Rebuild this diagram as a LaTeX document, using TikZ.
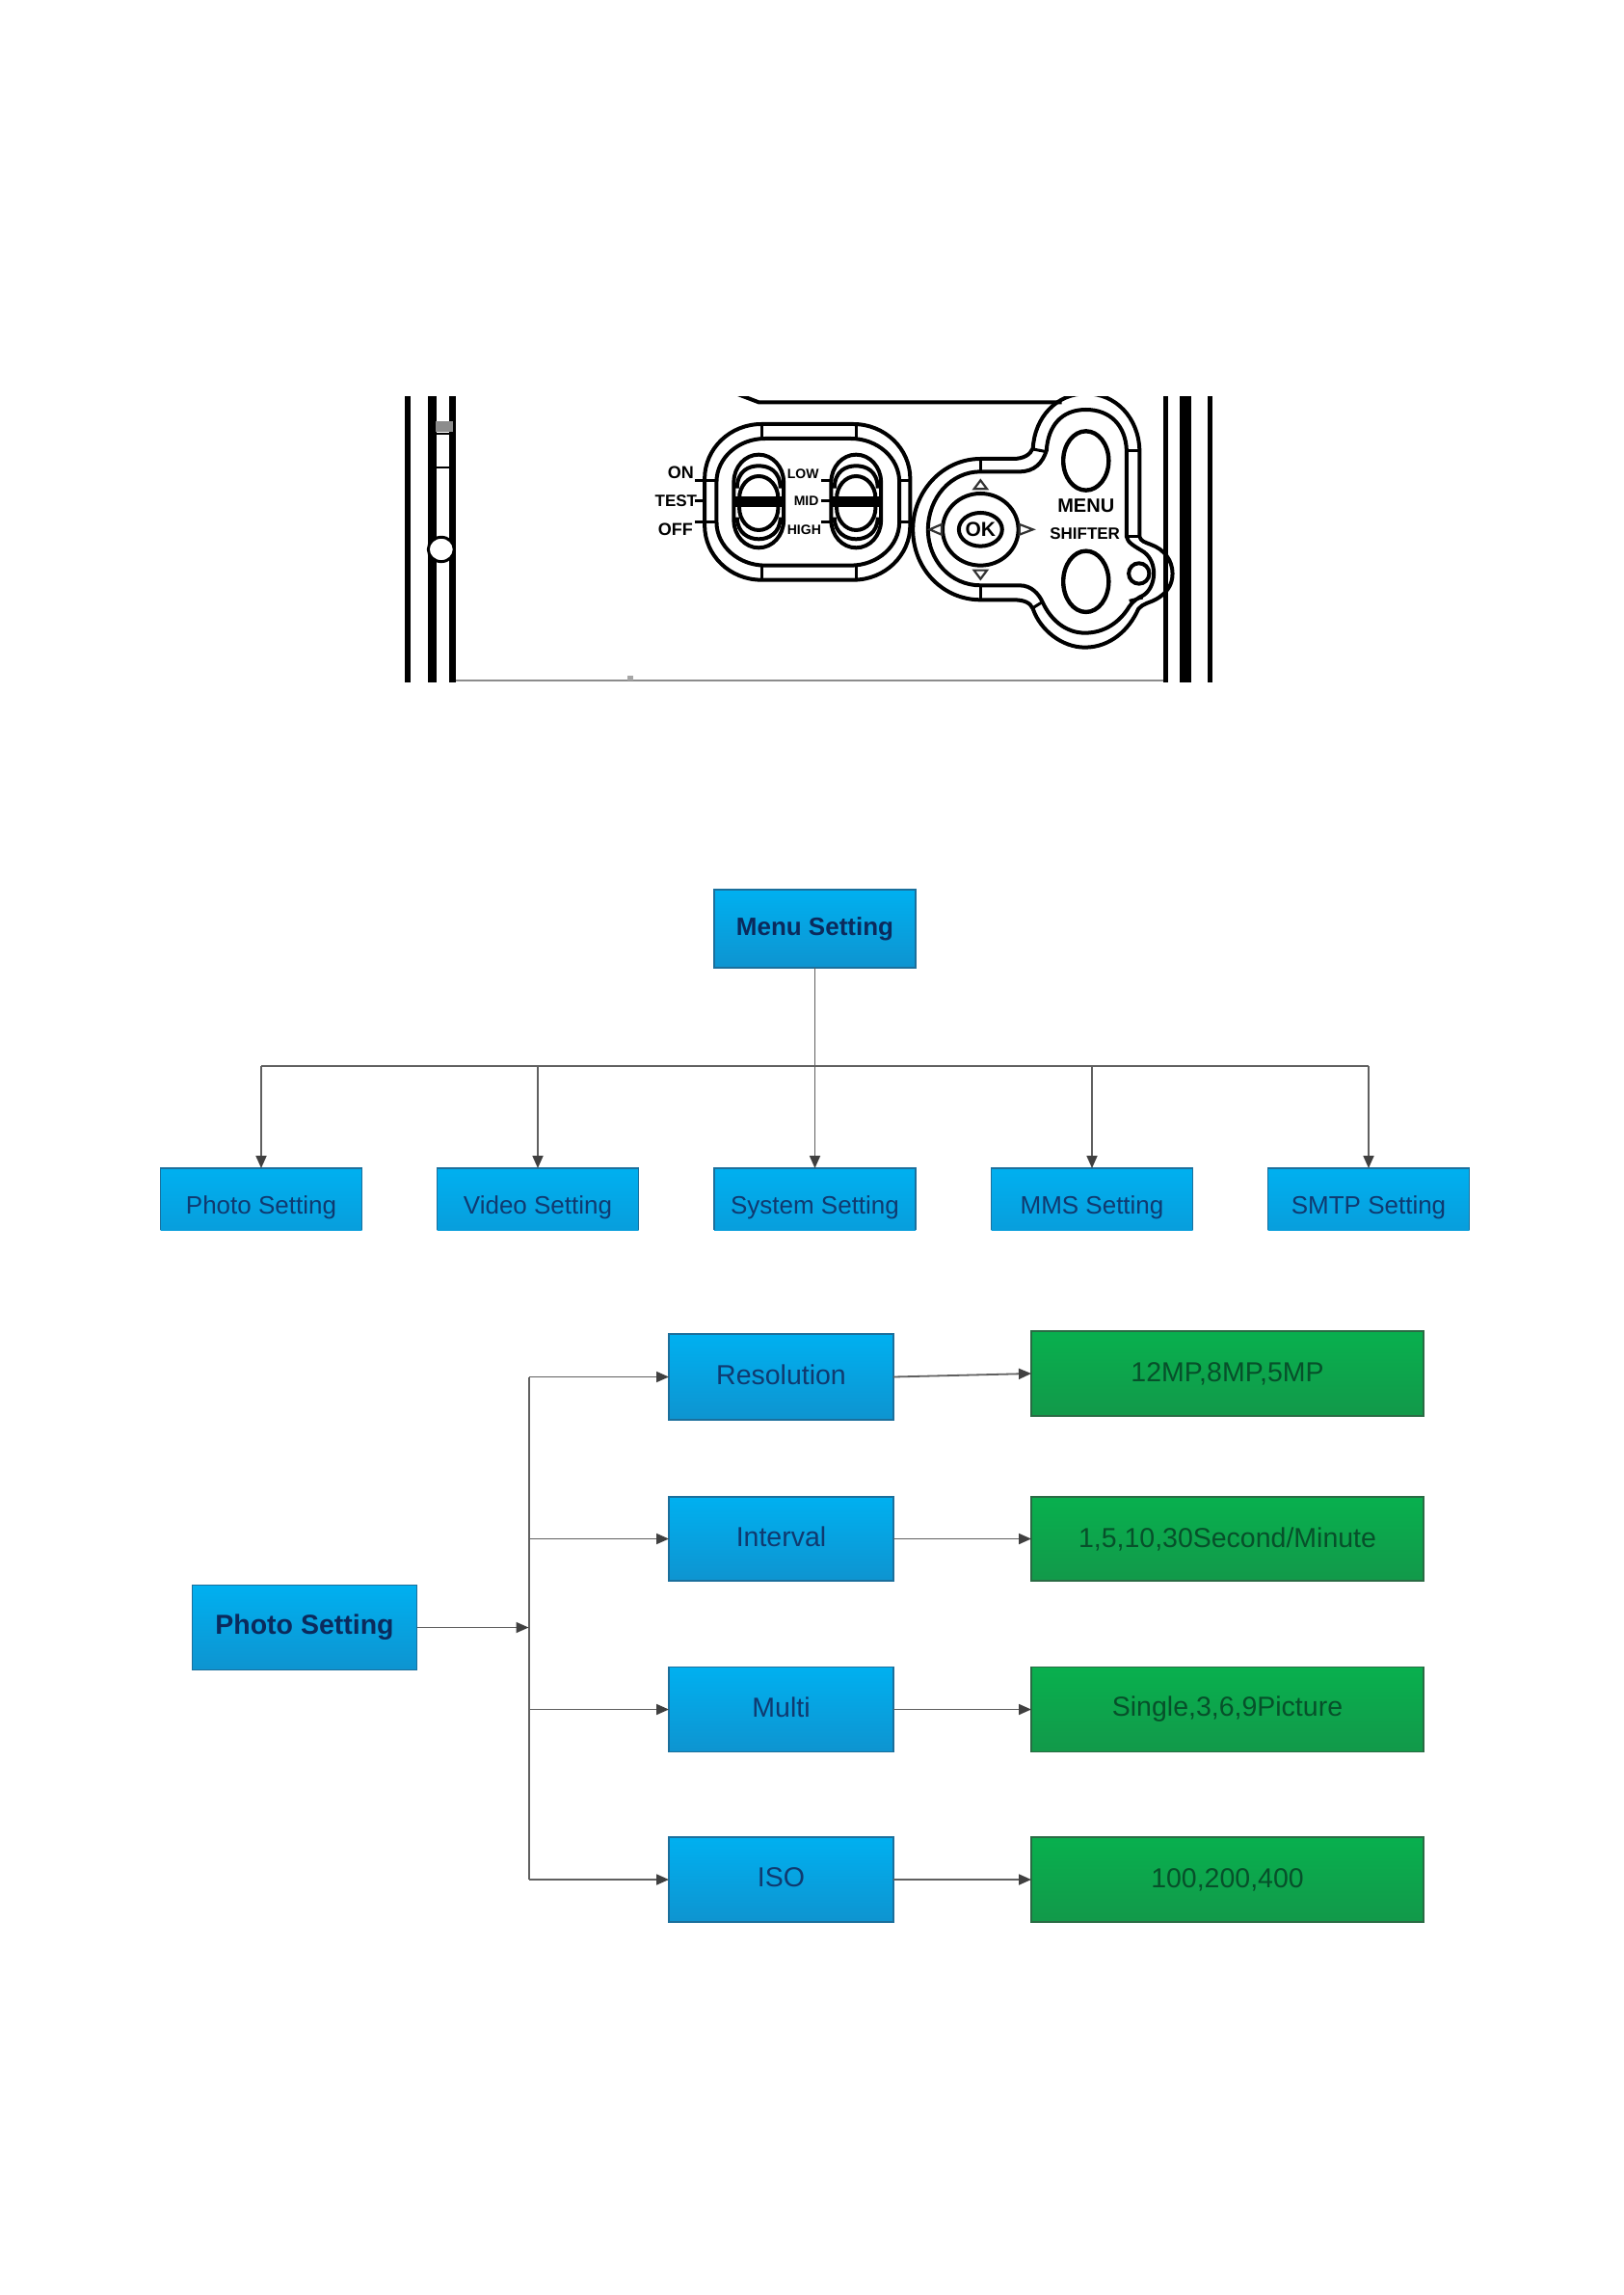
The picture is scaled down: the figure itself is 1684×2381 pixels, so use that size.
\documentclass[tikz,border=0pt]{standalone}
\usepackage{fontspec}
\setmainfont{Liberation Sans}
\usetikzlibrary{arrows.meta}
\definecolor{bluetop}{HTML}{00B0F0}
\definecolor{bluebot}{HTML}{0E94D0}
\definecolor{bluemid}{HTML}{089EDC}
\definecolor{blueedge}{HTML}{1B6F9C}
\definecolor{bluetxt}{HTML}{103A70}
\definecolor{bluebold}{HTML}{0B2A5C}
\definecolor{greentop}{HTML}{08B04E}
\definecolor{greenbot}{HTML}{12994A}
\definecolor{greenedge}{HTML}{2A6B44}
\definecolor{greentxt}{HTML}{07502A}
\definecolor{wire}{HTML}{606060}
\newcommand\fs[1]{\fontsize{#1}{#1}\selectfont}
\newcommand\lowered[2]{\raisebox{#1}[0pt][0pt]{#2}}
\tikzset{
  flowbox/.style={inner sep=0pt,outer sep=0pt,align=center,text=bluetxt,top color=bluetop,bottom color=bluebot,font=\fs{28.5}},
  blueframed/.style={flowbox,draw=blueedge,line width=1.6pt},
  boldbox/.style={blueframed,text=bluebold},
  greenbox/.style={inner sep=0pt,outer sep=0pt,align=center,text=greentxt,top color=greentop,bottom color=greenbot,draw=greenedge,line width=1.6pt,font=\fs{28.5}},
  conn/.style={draw=wire,line width=1.8pt,-{Triangle[length=13pt,width=11pt,color=black!75]}},
  plainwire/.style={draw=wire,line width=2.6pt},
  ink/.style={draw=black,line width=4pt},
  thinink/.style={draw=black,line width=3pt},
  devtxt/.style={inner sep=0pt,text=black,font=\bfseries\fs{#1}},
  arrowtri/.style={draw=black!80,line width=2.2pt,fill=white}
}
% rounded rectangle with elliptical corners: x1 y1 x2 y2 rx ry
\newcommand\rr[7][ink]{%
  \draw[#1] (#2+#6,#3) -- (#4-#6,#3)
    arc[start angle=-90,end angle=0,x radius=#6,y radius=#7] -- (#4,#5-#7)
    arc[start angle=0,end angle=90,x radius=#6,y radius=#7] -- (#2+#6,#5)
    arc[start angle=90,end angle=180,x radius=#6,y radius=#7] -- (#2,#3+#7)
    arc[start angle=180,end angle=270,x radius=#6,y radius=#7] -- cycle;}
\newcommand\slidr[1]{%
  \rr{#1-46}{245}{#1+46}{535}{46}{85}
  \draw[ink] (#1-40,350) .. controls (#1-40,295) and (#1-18,280) .. (#1,280)
     .. controls (#1+18,280) and (#1+40,295) .. (#1+40,350);
  \draw[ink] (#1-40,440) .. controls (#1-40,490) and (#1-18,508) .. (#1,508)
     .. controls (#1+18,508) and (#1+40,490) .. (#1+40,440);
  \rr{#1-36}{312}{#1+36}{480}{36}{70}
  \fill[black] (#1-44,375) rectangle (#1+44,408);}
\begin{document}
\begin{tikzpicture}[x=1pt,y=-1pt]
\useasboundingbox (0,0) rectangle (1684,2381);
\fill[white] (0,0) rectangle (1684,2381);

% ---------- device panel ----------
\begin{scope}
\clip (420,411) rectangle (1259,707);
\begin{scope}[shift={(400,390)},x=0.5612pt,y=-0.3333pt]
  % side strips
  \foreach \a/\b in {36/46,78/95,118/130,1438/1447,1468/1490,1520/1528}
    \fill[black] (\a,40) rectangle (\b,960);
  \draw[draw=black!45,line width=1.2pt] (130,948) -- (1438,948);
  \fill[black!35] (448,932) rectangle (458,948);
  % left switch
  \fill[black!45] (92,140) rectangle (125,175);
  \draw[black,line width=1.6pt] (92,180) -- (118,180);
  \draw[black,line width=2.4pt] (92,285) -- (118,285);
  \fill[white] (95,190) rectangle (118,280);
  \draw[thinink,fill=white] (103,540) ellipse [x radius=24,y radius=38];
  % top edge
  \draw[ink] (645,53) -- (690,82) -- (1250,82);
  % switch module
  \rr{590}{150}{970}{635}{105}{170}
  \rr{612}{195}{950}{590}{90}{135}
  \foreach \x in {695,870} {
    \draw[thinink] (\x,150) -- (\x,200);
    \draw[thinink] (\x,590) -- (\x,635);}
  \foreach \y in {325,455} {
    \draw[thinink] (590,\y) -- (612,\y);
    \draw[thinink] (950,\y) -- (970,\y);}
  \slidr{690}
  \slidr{870}
  \foreach \y in {325,390,455} {
    \draw[thinink] (572,\y) -- (590,\y);
    \draw[thinink] (805,\y) -- (825,\y);}
  \node[devtxt=18] (on) at (546,300) {ON};
  \node[devtxt=17] (test) at (537,390) {TEST};
  \node[devtxt=18] (off) at (536,478) {OFF};
  \node[devtxt=14] (low) at (772,305) {LOW};
  \node[devtxt=14] (mid) at (778,390) {MID};
  \node[devtxt=14] (high) at (774,480) {HIGH};
  % d-pad and button housing: outer wall
  \draw[ink] (1100,258) .. controls (1030,258) and (975,360) .. (975,478)
     .. controls (975,600) and (1030,697) .. (1100,697) -- (1160,697)
     .. controls (1180,697) and (1192,705) .. (1197,725)
     .. controls (1210,790) and (1250,845) .. (1293,845)
     .. controls (1340,845) and (1375,790) .. (1392,725)
     .. controls (1400,708) and (1415,705) .. (1425,695)
     .. controls (1445,675) and (1455,650) .. (1455,615)
     .. controls (1455,575) and (1440,540) .. (1415,525)
     .. controls (1405,518) and (1396,515) .. (1394,500)
     -- (1394,230)
     .. controls (1392,130) and (1350,55) .. (1295,55)
     .. controls (1240,55) and (1200,130) .. (1197,225)
     .. controls (1192,245) and (1180,258) .. (1160,258) -- cycle;
  % inner wall
  \draw[ink] (1100,298) .. controls (1045,298) and (1003,380) .. (1003,478)
     .. controls (1003,575) and (1045,652) .. (1100,652) -- (1172,652)
     .. controls (1195,652) and (1208,680) .. (1215,705)
     .. controls (1230,760) and (1258,800) .. (1293,800)
     .. controls (1330,800) and (1358,765) .. (1375,718)
     .. controls (1382,700) and (1392,690) .. (1402,682)
     .. controls (1425,655) and (1428,580) .. (1402,548)
     .. controls (1385,530) and (1372,520) .. (1370,500)
     -- (1370,230)
     .. controls (1368,155) and (1340,105) .. (1295,105)
     .. controls (1250,105) and (1225,155) .. (1222,232)
     .. controls (1215,270) and (1200,298) .. (1172,298) -- cycle;
  % cross ticks
  \draw[thinink] (1100,258) -- (1100,298);
  \draw[thinink] (1100,652) -- (1100,697);
  \draw[thinink] (1197,228) -- (1222,236);
  \draw[thinink] (1197,722) -- (1215,703);
  \draw[thinink] (1370,232) -- (1394,232);
  \draw[thinink] (1370,500) -- (1394,500);
  \draw[thinink] (1375,700) -- (1400,690);
  % small circle on the lobe
  \draw[ink] (1393,615) ellipse [x radius=19,y radius=32];
  % ok pad
  \draw[ink] (1100,478) ellipse [x radius=70,y radius=112];
  \draw[ink] (1100,478) ellipse [x radius=40,y radius=52];
  \node[inner sep=0pt,font=\bfseries\fs{21}] (ok) at (1100,478) {OK};
  \draw[arrowtri] (1088,352) -- (1112,352) -- (1100,325) -- cycle;
  \draw[arrowtri] (1088,605) -- (1112,605) -- (1100,632) -- cycle;
  \draw[arrowtri] (1028,462) -- (1028,494) -- (1006,478) -- cycle;
  \draw[arrowtri] (1172,462) -- (1172,494) -- (1197,478) -- cycle;
  % oval buttons
  \draw[line width=4.4pt] (1295,264) ellipse [x radius=42,y radius=92];
  \draw[line width=4.4pt] (1295,640) ellipse [x radius=42,y radius=95];
  \node[devtxt=20] (menu) at (1295,405) {MENU};
  \node[devtxt=17] (shifter) at (1293,492) {SHIFTER};
\end{scope}
\end{scope}

% ---------- menu tree ----------
\node[boldbox,font=\bfseries\fs{26},minimum width=209pt,minimum height=81pt] (menuset) at (845.5,963.5) {Menu Setting};
\foreach \n/\c/\t in {photo/271/Photo Setting,video/558/Video Setting,system/845.5/System Setting,mms/1133/MMS Setting,smtp/1420/SMTP Setting}{
  \node[flowbox,bottom color=bluemid,font=\fs{26},minimum width=209pt,minimum height=64pt] (\n) at (\c,1244) {\lowered{-15pt}{\t}};
  \draw[draw=blueedge,line width=1.6pt] (\n.south west) -- (\n.north west) -- (\n.north east) -- (\n.south east);
}
\coordinate (busL) at (photo.north |- 0,1106);
\coordinate (busV) at (video.north |- 0,1106);
\coordinate (busS) at (system.north |- 0,1106);
\coordinate (busM) at (mms.north |- 0,1106);
\coordinate (busR) at (smtp.north |- 0,1106);
\draw[plainwire,line join=round] (busL) -- (busR);
\draw[conn] (busL) -- (photo.north);
\draw[conn] (busV) -- (video.north);
\draw[conn] (menuset.south) -- (system.north);
\draw[conn] (busM) -- (mms.north);
\draw[conn] (busR) -- (smtp.north);

% ---------- photo setting tree ----------
\node[boldbox,font=\bfseries\fs{28.5},minimum width=233pt,minimum height=88pt] (photoset) at (316,1688.5) {Photo Setting};
\foreach \n/\y/\h/\t in {res/1428.5/89/Resolution,inter/1596.5/87/Interval,multi/1773.5/88/Multi,iso/1950/88/ISO}{
  \node[blueframed,minimum width=233pt,minimum height=\h pt] (\n) at (810.5,\y) {\lowered{-7.5pt}{\t}};
}
\node[greenbox,minimum width=407pt,minimum height=88pt] (resv) at (1273.5,1425) {12MP,8MP,5MP};
\node[greenbox,minimum width=407pt,minimum height=87pt] (interv) at (1273.5,1596.5) {1,5,10,30Second/Minute};
\node[greenbox,minimum width=407pt,minimum height=88pt] (multiv) at (1273.5,1773.5) {Single,3,6,9Picture};
\node[greenbox,minimum width=407pt,minimum height=88pt] (isov) at (1273.5,1950) {100,200,400};
\coordinate (trunk) at (548.5,1688.5);
\coordinate (trunkT) at (trunk |- res.west);
\coordinate (trunkI) at (trunk |- inter.west);
\coordinate (trunkM) at (trunk |- multi.west);
\coordinate (trunkB) at (trunk |- iso.west);
\draw[draw=wire,line width=2pt] (trunkT) -- (trunkB);
\draw[conn] (photoset.east) -- (trunk);
\draw[conn] (trunkT) -- (res.west);
\draw[conn] (trunkI) -- (inter.west);
\draw[conn] (trunkM) -- (multi.west);
\draw[conn] (trunkB) -- (iso.west);
\draw[conn] (res.east) -- (resv.west);
\draw[conn] (inter.east) -- (interv.west);
\draw[conn] (multi.east) -- (multiv.west);
\draw[conn] (iso.east) -- (isov.west);
\end{tikzpicture}
\end{document}
